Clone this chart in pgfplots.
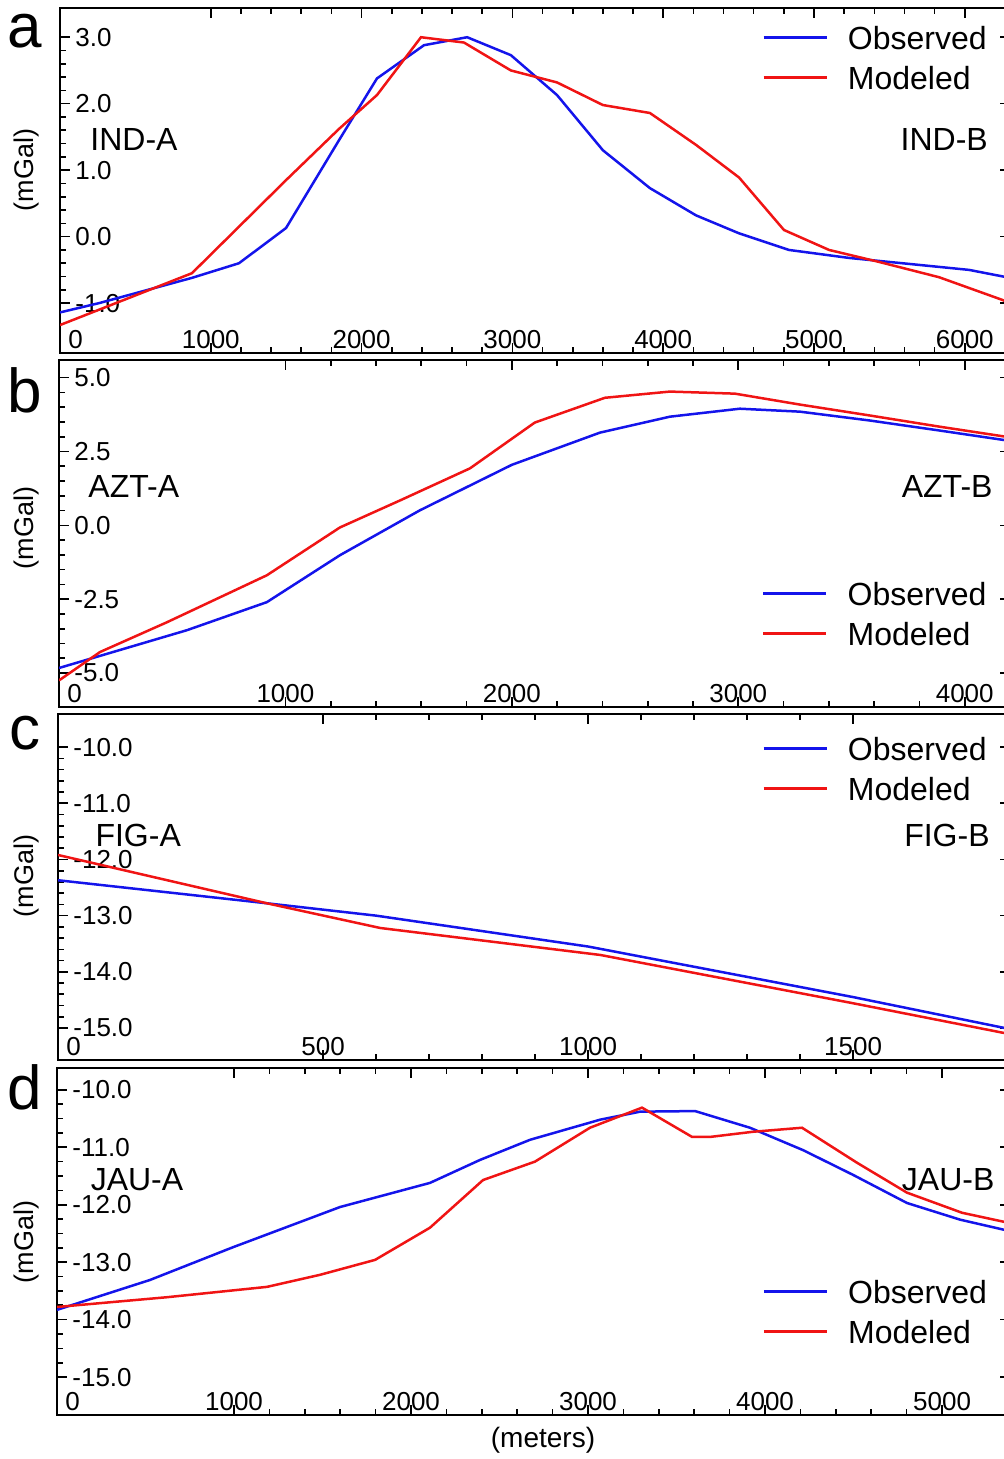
\documentclass[border=0pt]{standalone}
\usepackage{fontspec}
\setmainfont{Liberation Sans}
\usepackage{pgfplots}
\pgfplotsset{compat=1.18}
\definecolor{obsblue}{RGB}{20,20,235}
\definecolor{modred}{RGB}{240,20,20}
\newcommand\tickfont{\fontsize{13pt}{15pt}\selectfont}
\newcommand\legfont{\fontsize{16pt}{19pt}\selectfont}
\newcommand\axlabfont{\fontsize{13.5pt}{16pt}\selectfont}

\pgfplotsset{
  gravpanel/.style={
    scale only axis,
    anchor=south west,
    axis line style={line width=1pt},
    tick style={line width=0.8pt, black},
    major tick length=5pt,
    minor tick length=3pt,
    tick align=inside,
    minor x tick num=4,
    scaled ticks=false,
    xtick={1000,2000,3000,4000,5000,6000},
    xticklabels={1000,2000,3000,4000,5000,6000},
    xticklabel style={anchor=south, inner sep=2pt, font=\tickfont},
    yticklabel style={anchor=west, inner sep=2pt, xshift=5.5pt, font=\tickfont},
    extra x ticks={0},
    extra x tick labels={0},
    extra x tick style={xticklabel style={anchor=south west, xshift=2pt}},
    legend style={draw=none, fill=none, inner sep=0pt, anchor=north west,
      font=\legfont, row sep=4pt, column sep=10pt,
      nodes={inner sep=0pt, text height=12pt, text depth=4pt}},
    legend cell align=left,
    legend image code/.code={\draw[#1, line width=1.25pt] (0pt,2pt) -- (31.5pt,2pt);},
    every axis plot/.append style={line width=1.25pt},
  },
  obs/.style={obsblue},
  mod/.style={modred},
}

\begin{document}
\begin{tikzpicture}
\useasboundingbox (0,0) rectangle (501.5pt,729.5pt);

% panel a
\begin{axis}[gravpanel,
  at={(30pt,553pt)}, width=475pt, height=172.5pt,
  xmin=0, xmax=6300, ymin=-1.75, ymax=3.44,
  ytick={-1,0,1,2,3}, yticklabels={-1.0,0.0,1.0,2.0,3.0},
  minor y tick num=4,
  legend style={at={(rel axis cs:0.739,0.950)}},
]
\addplot[obs] coordinates {(0,-1.14) (259,-1.0) (875,-0.62) (1187,-0.40) (1499,0.13) (1850,1.45) (2102,2.38) (2414,2.88) (2700,3.0) (2990,2.73) (3296,2.13) (3600,1.30) (3912,0.73) (4218,0.32) (4503,0.05) (4834,-0.20) (5232,-0.32) (5630,-0.41) (6028,-0.50) (6300,-0.62)};
\addplot[mod] coordinates {(0,-1.33) (875,-0.55) (1499,0.85) (1850,1.62) (2102,2.13) (2394,3.0) (2679,2.92) (2990,2.50) (3296,2.32) (3600,1.98) (3912,1.86) (4218,1.38) (4503,0.89) (4801,0.10) (5100,-0.20) (5431,-0.38) (5829,-0.61) (6247,-0.95) (6300,-1.0)};
\legend{Observed,Modeled}
\node[anchor=west, inner sep=0pt, font=\legfont] at (rel axis cs:0.0316,0.62) {IND-A};
\node[anchor=east, inner sep=0pt, font=\legfont] at (rel axis cs:0.977,0.62) {IND-B};
\end{axis}

% panel b
\begin{axis}[gravpanel,
  at={(29.5pt,376pt)}, width=475.5pt, height=173.5pt,
  xmin=0, xmax=4200, ymin=-6.15, ymax=5.6,
  xtick={1000,2000,3000,4000}, xticklabels={1000,2000,3000,4000},
  ytick={-5,-2.5,0,2.5,5}, yticklabels={-5.0,-2.5,0.0,2.5,5.0},
  minor y tick num=4,
  legend style={at={(rel axis cs:0.739,0.363)}},
]
\addplot[obs] coordinates {(0,-4.83) (225,-4.32) (565,-3.55) (918,-2.60) (1241,-1.01) (1594,0.51) (2000,2.05) (2389,3.14) (2698,3.68) (3007,3.95) (3272,3.85) (3581,3.55) (3890,3.21) (4200,2.86)};
\addplot[mod] coordinates {(0,-5.25) (181,-4.29) (477,-3.28) (918,-1.69) (1241,-0.07) (1505,0.84) (1815,1.93) (2101,3.48) (2411,4.32) (2698,4.53) (2985,4.46) (3272,4.09) (3581,3.72) (3890,3.34) (4200,2.98)};
\legend{Observed,Modeled}
\node[anchor=west, inner sep=0pt, font=\legfont] at (rel axis cs:0.0305,0.634) {AZT-A};
\node[anchor=east, inner sep=0pt, font=\legfont] at (rel axis cs:0.982,0.634) {AZT-B};
\end{axis}

% panel c
\begin{axis}[gravpanel,
  at={(29pt,199.5pt)}, width=476pt, height=173pt,
  xmin=0, xmax=1796, ymin=-15.57, ymax=-9.41,
  xtick={500,1000,1500}, xticklabels={500,1000,1500},
  ytick={-15,-14,-13,-12,-11,-10}, yticklabels={-15.0,-14.0,-13.0,-12.0,-11.0,-10.0},
  minor y tick num=4,
  legend style={at={(rel axis cs:0.7395,0.936)}},
]
\addplot[obs] coordinates {(0,-12.37) (394,-12.78) (600,-13.0) (1000,-13.55) (1500,-14.45) (1796,-15.02)};
\addplot[mod] coordinates {(0,-11.92) (394,-12.78) (608,-13.22) (1023,-13.70) (1500,-14.56) (1796,-15.11)};
\legend{Observed,Modeled}
\node[anchor=west, inner sep=0pt, font=\legfont] at (rel axis cs:0.039,0.65) {FIG-A};
\node[anchor=east, inner sep=0pt, font=\legfont] at (rel axis cs:0.979,0.65) {FIG-B};
\end{axis}

% panel d
\begin{axis}[gravpanel,
  at={(28.5pt,22pt)}, width=476.5pt, height=173.5pt,
  xmin=0, xmax=5384, ymin=-15.66, ymax=-9.62,
  xtick={1000,2000,3000,4000,5000}, xticklabels={1000,2000,3000,4000,5000},
  ytick={-15,-14,-13,-12,-11,-10}, yticklabels={-15.0,-14.0,-13.0,-12.0,-11.0,-10.0},
  minor y tick num=3,
  legend style={at={(rel axis cs:0.740,0.392)}},
]
\addplot[obs] coordinates {(0,-13.83) (525,-13.31) (994,-12.74) (1599,-12.04) (2107,-11.62) (2390,-11.22) (2672,-10.87) (3068,-10.52) (3294,-10.38) (3605,-10.37) (3915,-10.66) (4215,-11.05) (4497,-11.48) (4802,-11.97) (5102,-12.26) (5384,-12.46)};
\addplot[mod] coordinates {(0,-13.78) (621,-13.61) (1186,-13.43) (1486,-13.22) (1797,-12.96) (2107,-12.40) (2407,-11.57) (2700,-11.25) (3011,-10.66) (3305,-10.31) (3588,-10.82) (3689,-10.82) (3932,-10.73) (4209,-10.66) (4520,-11.27) (4802,-11.79) (5113,-12.14) (5384,-12.32)};
\legend{Observed,Modeled}
\node[anchor=west, inner sep=0pt, font=\legfont] at (rel axis cs:0.035,0.677) {JAU-A};
\node[anchor=east, inner sep=0pt, font=\legfont] at (rel axis cs:0.984,0.677) {JAU-B};
\end{axis}

% panel letters and axis titles
\node[anchor=base, inner sep=0pt, font=\fontsize{31pt}{34pt}\selectfont] at (12.5pt,705.5pt) {a};
\node[anchor=base, inner sep=0pt, font=\fontsize{31pt}{34pt}\selectfont] at (12.5pt,523pt) {b};
\node[anchor=base, inner sep=0pt, font=\fontsize{31pt}{34pt}\selectfont] at (12.5pt,354.5pt) {c};
\node[anchor=base, inner sep=0pt, font=\fontsize{31pt}{34pt}\selectfont] at (12.5pt,174.5pt) {d};
\foreach \yy in {644.5,465.5,291.5,108.5}
  \node[rotate=90, inner sep=0pt, font=\axlabfont] at (13.5pt,\yy pt) {(mGal)};
\node[inner sep=0pt, font=\fontsize{14pt}{16pt}\selectfont] at (271.5pt,9.5pt) {(meters)};
\end{tikzpicture}
\end{document}
